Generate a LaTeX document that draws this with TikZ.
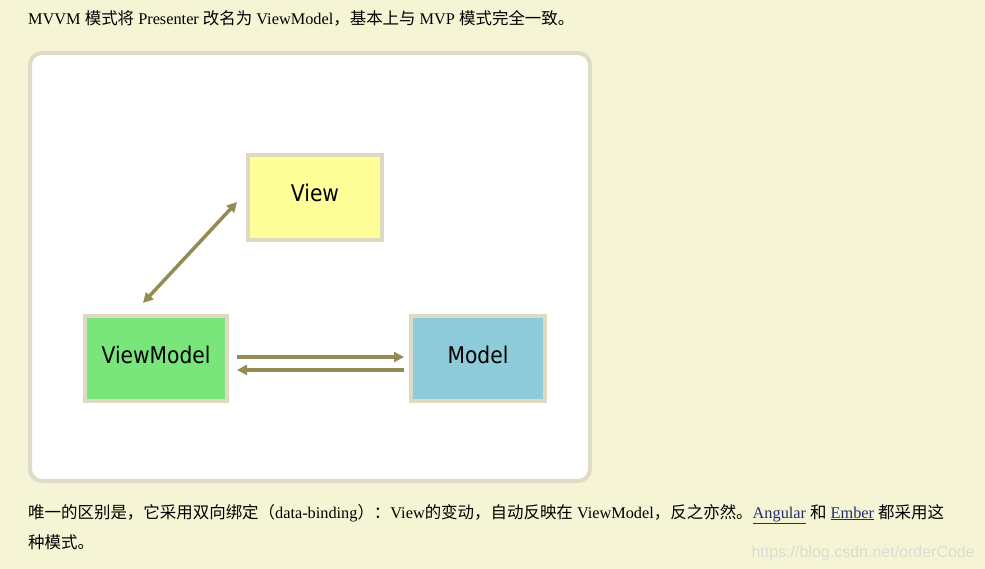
\documentclass[tikz,border=0pt]{standalone}
\usepackage{fontspec}
\usepackage{xcolor}
\setmainfont{Liberation Serif}
\newfontfamily\zh[Scale=1.01]{Noto Sans CJK SC}
\newfontfamily\boxfont[FakeStretch=0.88]{DejaVu Sans}
\newfontfamily\markfont{Liberation Sans}
\usetikzlibrary{arrows.meta, positioning}
\definecolor{pagebg}{HTML}{F5F5D5}
\definecolor{frameedge}{HTML}{DEDCC8}
\definecolor{boxedge}{HTML}{DDD9C3}
\definecolor{viewbg}{HTML}{FFFF99}
\definecolor{vmbg}{HTML}{7AE57A}
\definecolor{modelbg}{HTML}{8ECBDB}
\definecolor{arrowc}{HTML}{948A54}
\definecolor{linkc}{HTML}{1F2F6E}
\definecolor{markc}{HTML}{DCDCD4}
\tikzset{
  box/.style={rectangle, draw=boxedge, line width=4pt, outer sep=2pt,
    minimum width=134pt, minimum height=85pt, text=black,
    text height=17pt, text depth=8pt,
    font=\boxfont\fontsize{23}{23}\selectfont},
  para/.style={anchor=base west, inner sep=0pt, font=\fontsize{16.3}{18}\selectfont},
  ar/.style={-{Triangle[length=10pt,width=10pt]}, line width=3.5pt, arrowc},
  dar/.style={{Triangle[length=10pt,width=10pt]}-{Triangle[length=10pt,width=10pt]},
    line width=3.5pt, arrowc},
}

\begin{document}
\begin{tikzpicture}[x=1pt, y=-1pt]
  \fill[pagebg] (0,0) rectangle (985,569);
  \useasboundingbox (0,0) rectangle (985,569);

  % text above and below the figure
  \node[para] (intro) at (28,25) {MVVM {\zh 模式将} Presenter {\zh 改名为} ViewModel{\zh ，基本上与} MVP {\zh 模式完全一致。}};
  \node[para] (diff) at (28,518) {{\zh 唯一的区别是，它采用双向绑定（}data-binding{\zh ）：}View{\zh 的变动，自动反映在} ViewModel{\zh ，反之亦然。}{\color{linkc}\underline{Angular}} {\zh 和} {\color{linkc}\underline{Ember}} {\zh 都采用这}};
  \node[para] (diff2) at (28,548) {{\zh 种模式。}};
  \node[anchor=base east, inner sep=0pt, text=markc, font=\markfont\fontsize{16}{16}\selectfont] (mark) at (975,557) {https://blog.csdn.net/orderCode};

  % frame
  \draw[frameedge, line width=4pt, fill=white, rounded corners=12pt] (30,53) rectangle (590,481);

  \node[box, fill=vmbg, minimum width=142pt] (vm) at (156,358.5) {ViewModel};
  \node[box, fill=modelbg, right=180pt of vm] (model) {Model};
  \node[box, fill=viewbg, above right=72pt and 17pt of vm] (view) {View};

  \draw[dar] ([xshift=-13pt,yshift=11pt]vm.north) -- ([xshift=-9pt,yshift=-4.5pt]view.west);
  \draw[ar] ([xshift=8pt,yshift=1.5pt]vm.east) -- ([xshift=-5pt,yshift=1.5pt]model.west);
  \draw[ar] ([xshift=-5pt,yshift=-11.5pt]model.west) -- ([xshift=8pt,yshift=-11.5pt]vm.east);
\end{tikzpicture}
\end{document}
